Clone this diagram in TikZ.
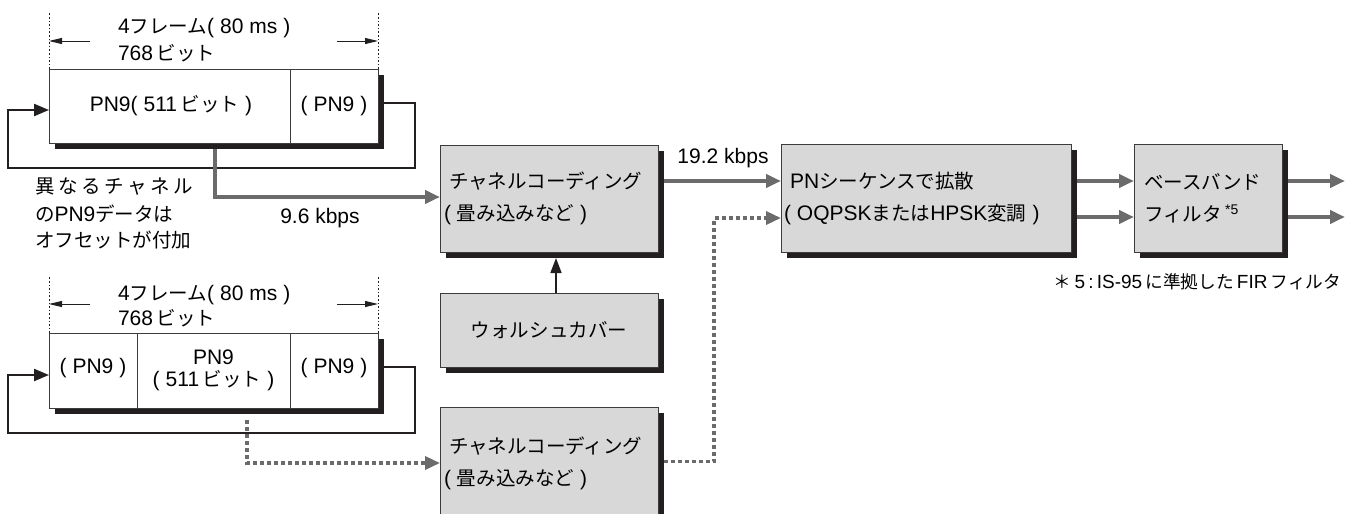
\documentclass[tikz,border=0pt]{standalone}
\usepackage{fontspec}
\setmainfont{Liberation Sans}
\newfontfamily\jpf[Scale=0.93]{Noto Sans CJK JP}
\usetikzlibrary{arrows.meta,shadows,calc}
\newcommand\J[1]{{\jpf #1}}
\newcommand\LP{(\hspace{6pt}}
\newcommand\RP{\hspace{6pt})}
\definecolor{boxfill}{HTML}{D8D8D8}
\definecolor{shad}{HTML}{231F20}
\definecolor{arrgray}{HTML}{6B6B6B}
\definecolor{edgec}{HTML}{3C3C3C}
\begin{document}
\begin{tikzpicture}[x=1pt,y=-1pt,
  font=\fontsize{21}{32}\selectfont,
  graybox/.style={draw=edgec, line width=1pt, fill=boxfill,
    general shadow={fill=shad, shadow xshift=6pt, shadow yshift=-6pt},
    inner sep=0pt, outer sep=0pt},
  framebox/.style={draw=edgec, line width=1pt, fill=white,
    general shadow={fill=shad, shadow xshift=6pt, shadow yshift=-6pt},
    inner sep=0pt, outer sep=0pt},
  txt/.style={inner sep=0pt, outer sep=0pt},
  grayarrow/.style={draw=arrgray, line width=4pt, -{Triangle[length=15pt,width=13pt]}},
  dotarrow/.style={draw=arrgray, line width=3.5pt, dash pattern=on 4pt off 3pt, -{Triangle[length=15pt,width=13pt]}},
  loopline/.style={draw=shad, line width=2.2pt, -{Triangle[length=15pt,width=12pt]}},
  blackarrow/.style={draw=shad, line width=1.6pt, -{Triangle[length=15pt,width=11pt]}},
  dimarrow/.style={draw=shad, line width=1pt, -{Triangle[length=13pt,width=6pt]}},
  dimline/.style={draw=shad, line width=0.9pt, dash pattern=on 1.6pt off 2pt},
  divider/.style={draw=edgec, line width=1pt}]
\path[use as bounding box, clip] (0,0) rectangle (1358,514);

% ---------- top frame ----------
\node[framebox, minimum width=329, minimum height=74] (f1) at (213.5,106) {};
\draw[divider] ([xshift=241pt]f1.north west) -- ([xshift=241pt]f1.south west);
\node[txt] (f1a) at (171,106) {PN9\LP 511\,\J{ビット}\RP};
\node[txt] (f1b) at (334,106) {\LP PN9\RP};
\coordinate (t1l) at (49,13);
\coordinate (t1r) at (378,13);
\draw[dimline] (f1.north west) -- (t1l);
\draw[dimline] (f1.north east) -- (t1r);
\coordinate (a1l) at (90,41);
\coordinate (a1r) at (337,41);
\draw[dimarrow] (a1l) -- (a1l -| f1.west);
\draw[dimarrow] (a1r) -- (a1r -| f1.east);
\node[txt, anchor=west] (t1a) at (118,28) {4\J{フレーム}\LP 80 ms\RP};
\node[txt, anchor=west] (t1b) at (118,53) {768\,\J{ビット}};
\coordinate (l1r) at (415,168);
\coordinate (l1l) at (8,168);
\draw[loopline] ([xshift=6pt,yshift=3pt]f1.east) -| (l1r) -- (l1l) |- ([yshift=-4pt]f1.west);

% ---------- note ----------
\node[txt, anchor=west] (n1) at (35,187) {\makebox[158pt][s]{\J{異\hfil な\hfil る\hfil チ\hfil ャ\hfil ネ\hfil ル}}};
\node[txt, anchor=west] (n2) at (35,214) {\J{の}PN9\J{データは}};
\node[txt, anchor=west] (n3) at (35,240) {\J{オフセットが付加}};

% ---------- bottom frame ----------
\node[framebox, minimum width=329, minimum height=75] (f2) at (213.5,370.5) {};
\draw[divider] ([xshift=88pt]f2.north west) -- ([xshift=88pt]f2.south west);
\draw[divider] ([xshift=241pt]f2.north west) -- ([xshift=241pt]f2.south west);
\node[txt] (f2a) at (93,368) {\LP PN9\RP};
\node[txt] (f2b) at (213.5,357) {PN9};
\node[txt] (f2c) at (213.5,381) {\LP 511\,\J{ビット}\RP};
\node[txt] (f2d) at (334,368) {\LP PN9\RP};
\coordinate (t2l) at (49,277);
\coordinate (t2r) at (378,277);
\draw[dimline] (f2.north west) -- (t2l);
\draw[dimline] (f2.north east) -- (t2r);
\coordinate (a2l) at (90,304);
\coordinate (a2r) at (337,304);
\draw[dimarrow] (a2l) -- (a2l -| f2.west);
\draw[dimarrow] (a2r) -- (a2r -| f2.east);
\node[txt, anchor=west] (t2a) at (118,295) {4\J{フレーム}\LP 80 ms\RP};
\node[txt, anchor=west] (t2b) at (118,318) {768\,\J{ビット}};
\coordinate (l2r) at (415,433);
\coordinate (l2l) at (8,433);
\draw[loopline] ([xshift=6pt,yshift=3.5pt]f2.east) -| (l2r) -- (l2l) |- ([yshift=-4.5pt]f2.west);

% ---------- processing boxes ----------
\node[graybox, minimum width=218, minimum height=107, text width=210, align=left] (cc1) at (549,198.5)
  {\hspace*{5pt}\J{チャネルコーディング}\\\LP\J{畳み込みなど}\RP};
\node[graybox, minimum width=218, minimum height=74] (ws) at (549,330) {\J{ウォルシュカバー}};
\node[graybox, minimum width=218, minimum height=113, text width=210, align=left] (cc2) at (549,463.5)
  {\hspace*{5pt}\J{チャネルコーディング}\\\LP\J{畳み込みなど}\RP};
\node[graybox, minimum width=290, minimum height=108, text width=284, align=left] (pn) at (926,198)
  {\hspace*{6pt}PN\J{シーケンスで拡散}\\\LP OQPSK\J{または}HPSK\J{変調}\RP};
\node[graybox, minimum width=148, minimum height=108, text width=128, align=left] (bb) at (1208,198)
  {\J{ベースバンド}\\\J{フィルタ}\,\raisebox{7pt}{\fontsize{14}{14}\selectfont *5}};

\node[txt, anchor=east, font=\fontsize{19}{20}\selectfont] (fn) at (1341,282)
  {\J{＊}\,5\,:\,IS-95\,\J{に準拠した}\,FIR\,\J{フィルタ}};
\node[txt] (r19) at (723,158) {19.2 kbps};
\node[txt] (r96) at (320,218) {9.6 kbps};

% ---------- connectors ----------
\draw[grayarrow] ([xshift=1.5pt,yshift=-6pt]f1.south) |- ([yshift=1.5pt]cc1.west);
\coordinate (d2) at (247,420);
\draw[dotarrow] (d2) |- ([yshift=0.5pt]cc2.west);
\coordinate (dc) at (714,218);
\draw[dotarrow] ([xshift=6pt,yshift=2pt]cc2.east) -| (dc) -- (dc -| pn.west);
\draw[grayarrow] ([xshift=6pt,yshift=17.5pt]cc1.east) -- ([yshift=17pt]pn.west);
\draw[blackarrow] ([xshift=7pt]ws.north) -- ([xshift=7pt,yshift=-6pt]cc1.south);
\draw[grayarrow] ([xshift=6pt,yshift=17pt]pn.east) -- ([yshift=17pt]bb.west);
\draw[grayarrow] ([xshift=6pt,yshift=-19pt]pn.east) -- ([yshift=-19pt]bb.west);
\coordinate (o1) at (1345,181);
\coordinate (o2) at (1345,217);
\draw[grayarrow] ([xshift=6pt,yshift=17pt]bb.east) -- (o1);
\draw[grayarrow] ([xshift=6pt,yshift=-19pt]bb.east) -- (o2);
\end{tikzpicture}
\end{document}
